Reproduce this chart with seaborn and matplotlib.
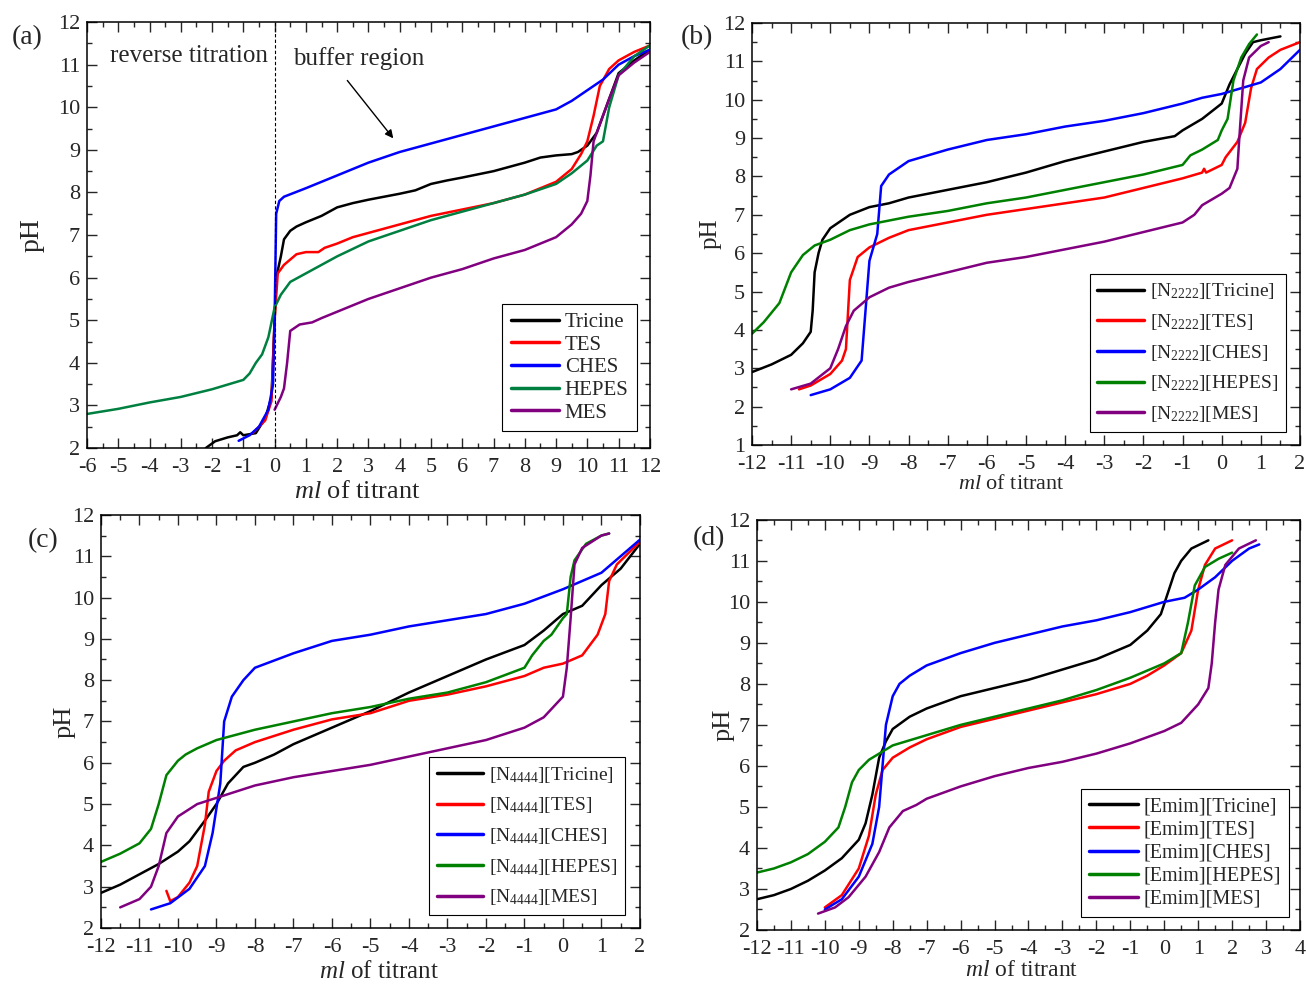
import numpy as np
import pandas as pd
import seaborn as sns
import matplotlib.pyplot as plt
from matplotlib.ticker import MultipleLocator

# ---- panel (a): buffers ----
a_tricine_x = [-2.2, -1.9, -1.5, -1.2, -1.1, -1.0, -0.6, -0.3, -0.1, 0.0, 0.05, 0.2, 0.3, 0.5, 0.7, 1.0, 1.5, 2.0, 2.5, 3.0, 3.5, 4.0, 4.5, 5.0, 5.5, 6.0, 7.0, 7.5, 8.0, 8.5, 9.0, 9.5, 9.7, 10.0, 10.3, 10.5, 10.8, 11.0, 11.5, 12.0]
a_tricine_y = [2.0, 2.16, 2.25, 2.3, 2.37, 2.3, 2.35, 2.7, 3.2, 5.0, 6.0, 6.5, 6.9, 7.1, 7.2, 7.3, 7.45, 7.65, 7.75, 7.83, 7.9, 7.97, 8.05, 8.2, 8.28, 8.35, 8.5, 8.6, 8.7, 8.82, 8.87, 8.9, 8.95, 9.1, 9.4, 9.8, 10.4, 10.8, 11.1, 11.35]
a_tes_x = [-0.7, -0.3, -0.1, 0.0, 0.1, 0.3, 0.7, 1.0, 1.4, 1.6, 2.0, 2.5, 3.0, 4.0, 5.0, 6.0, 7.0, 8.0, 9.0, 9.5, 9.8, 10.0, 10.2, 10.4, 10.7, 11.0, 11.5, 12.0]
a_tes_y = [2.35, 2.65, 3.1, 5.0, 6.1, 6.3, 6.55, 6.6, 6.6, 6.7, 6.8, 6.95, 7.05, 7.25, 7.45, 7.6, 7.75, 7.95, 8.25, 8.55, 8.9, 9.2, 9.8, 10.5, 10.9, 11.1, 11.3, 11.45]
a_ches_x = [-1.15, -0.8, -0.5, -0.2, -0.05, 0.0, 0.05, 0.15, 0.3, 1.0, 2.0, 3.0, 4.0, 5.0, 6.0, 7.0, 8.0, 9.0, 9.5, 10.0, 10.5, 11.0, 11.5, 12.0]
a_ches_y = [2.17, 2.3, 2.5, 2.9, 3.5, 5.0, 7.5, 7.8, 7.9, 8.1, 8.4, 8.7, 8.95, 9.15, 9.35, 9.55, 9.75, 9.95, 10.15, 10.4, 10.65, 11.0, 11.2, 11.35]
a_hepes_x = [-6.0, -5.0, -4.0, -3.0, -2.0, -1.0, -0.8, -0.6, -0.4, -0.2, 0.0, 0.2, 0.5, 1.0, 1.5, 2.0, 3.0, 4.0, 5.0, 6.0, 7.0, 8.0, 9.0, 9.5, 10.0, 10.3, 10.5, 10.7, 11.0, 11.5, 12.0]
a_hepes_y = [2.8, 2.92, 3.07, 3.2, 3.38, 3.6, 3.75, 4.0, 4.2, 4.6, 5.3, 5.6, 5.9, 6.1, 6.3, 6.5, 6.85, 7.1, 7.35, 7.55, 7.75, 7.95, 8.2, 8.45, 8.75, 9.1, 9.2, 10.0, 10.75, 11.2, 11.45]
a_mes_x = [0.0, 0.2, 0.3, 0.4, 0.5, 0.8, 1.2, 1.5, 2.0, 2.5, 3.0, 4.0, 5.0, 6.0, 7.0, 8.0, 9.0, 9.5, 9.8, 10.0, 10.1, 10.2, 10.4, 10.7, 11.0, 11.5, 12.0]
a_mes_y = [2.9, 3.2, 3.4, 4.0, 4.75, 4.9, 4.95, 5.05, 5.2, 5.35, 5.5, 5.75, 6.0, 6.2, 6.45, 6.65, 6.95, 7.25, 7.5, 7.8, 8.4, 9.2, 9.6, 10.2, 10.75, 11.05, 11.3]

# ---- panel (b): [N2222] salts ----
b_tricine_x = [-12.0, -11.5, -11.0, -10.7, -10.5, -10.45, -10.4, -10.3, -10.2, -10.0, -9.5, -9.0, -8.5, -8.0, -7.0, -6.0, -5.0, -4.0, -3.0, -2.0, -1.2, -1.0, -0.5, 0.0, 0.2, 0.4, 0.6, 0.8, 1.0, 1.5]
b_tricine_y = [2.9, 3.1, 3.35, 3.65, 3.95, 4.5, 5.5, 6.0, 6.35, 6.65, 7.0, 7.2, 7.3, 7.45, 7.65, 7.85, 8.1, 8.4, 8.65, 8.9, 9.05, 9.2, 9.5, 9.9, 10.4, 10.8, 11.2, 11.5, 11.55, 11.65]
b_tes_x = [-10.8, -10.5, -10.0, -9.7, -9.6, -9.5, -9.3, -9.0, -8.5, -8.0, -7.0, -6.0, -5.0, -4.0, -3.0, -2.0, -1.0, -0.5, -0.45, -0.4, 0.0, 0.1, 0.4, 0.6, 0.75, 0.9, 1.2, 1.5, 2.0]
b_tes_y = [2.45, 2.55, 2.85, 3.2, 3.5, 5.3, 5.9, 6.15, 6.4, 6.6, 6.8, 7.0, 7.15, 7.3, 7.45, 7.7, 7.95, 8.1, 8.2, 8.1, 8.3, 8.5, 8.9, 9.4, 10.3, 10.8, 11.1, 11.3, 11.5]
b_ches_x = [-10.5, -10.0, -9.5, -9.2, -9.0, -8.8, -8.7, -8.5, -8.0, -7.0, -6.0, -5.0, -4.0, -3.0, -2.0, -1.0, -0.5, 0.0, 0.5, 1.0, 1.5, 2.0]
b_ches_y = [2.3, 2.45, 2.75, 3.2, 5.8, 6.5, 7.75, 8.05, 8.4, 8.7, 8.95, 9.1, 9.3, 9.45, 9.65, 9.9, 10.05, 10.15, 10.3, 10.45, 10.8, 11.3]
b_hepes_x = [-12.0, -11.7, -11.3, -11.0, -10.7, -10.4, -10.0, -9.5, -9.0, -8.0, -7.0, -6.0, -5.0, -4.0, -3.0, -2.0, -1.0, -0.8, -0.5, -0.1, 0.0, 0.15, 0.3, 0.5, 0.7, 0.9]
b_hepes_y = [3.9, 4.2, 4.7, 5.5, 5.95, 6.2, 6.35, 6.6, 6.75, 6.95, 7.1, 7.3, 7.45, 7.65, 7.85, 8.05, 8.3, 8.55, 8.7, 8.95, 9.2, 9.5, 10.5, 11.1, 11.45, 11.7]
b_mes_x = [-11.0, -10.5, -10.0, -9.8, -9.6, -9.4, -9.0, -8.5, -8.0, -7.0, -6.0, -5.0, -4.0, -3.0, -2.0, -1.0, -0.7, -0.5, 0.0, 0.2, 0.4, 0.45, 0.55, 0.7, 1.0, 1.2]
b_mes_y = [2.45, 2.6, 3.0, 3.5, 4.1, 4.5, 4.85, 5.1, 5.25, 5.5, 5.75, 5.9, 6.1, 6.3, 6.55, 6.8, 7.0, 7.25, 7.55, 7.7, 8.2, 9.0, 10.5, 11.1, 11.4, 11.5]

# ---- panel (c): [N4444] salts ----
c_tricine_x = [-12.0, -11.5, -11.0, -10.5, -10.0, -9.7, -9.3, -9.0, -8.7, -8.3, -8.0, -7.5, -7.0, -6.0, -5.0, -4.0, -3.0, -2.0, -1.0, -0.5, 0.0, 0.5, 1.0, 1.5, 2.0]
c_tricine_y = [2.85, 3.05, 3.3, 3.55, 3.85, 4.1, 4.6, 5.0, 5.5, 5.9, 6.0, 6.2, 6.45, 6.85, 7.25, 7.7, 8.1, 8.5, 8.85, 9.2, 9.6, 9.8, 10.3, 10.7, 11.3]
c_tes_x = [-10.3, -10.2, -10.0, -9.7, -9.5, -9.3, -9.2, -9.0, -8.8, -8.5, -8.0, -7.0, -6.0, -5.0, -4.0, -3.0, -2.0, -1.0, -0.5, 0.0, 0.5, 0.9, 1.1, 1.2, 1.4, 2.0]
c_tes_y = [2.9, 2.65, 2.75, 3.1, 3.5, 4.5, 5.3, 5.8, 6.05, 6.3, 6.5, 6.8, 7.05, 7.2, 7.5, 7.65, 7.85, 8.1, 8.3, 8.4, 8.6, 9.1, 9.6, 10.4, 10.8, 11.35]
c_ches_x = [-10.7, -10.2, -9.7, -9.3, -9.1, -8.9, -8.8, -8.6, -8.3, -8.0, -7.0, -6.0, -5.0, -4.0, -3.0, -2.0, -1.0, 0.0, 0.5, 1.0, 1.5, 2.0]
c_ches_y = [2.45, 2.6, 2.95, 3.5, 4.3, 5.5, 7.0, 7.6, 8.0, 8.3, 8.65, 8.95, 9.1, 9.3, 9.45, 9.6, 9.85, 10.2, 10.4, 10.6, 11.0, 11.4]
c_hepes_x = [-12.0, -11.5, -11.0, -10.7, -10.5, -10.3, -10.0, -9.8, -9.5, -9.0, -8.0, -7.0, -6.0, -5.0, -4.0, -3.0, -2.0, -1.0, -0.8, -0.5, -0.3, 0.0, 0.1, 0.2, 0.3, 0.6, 1.0, 1.2]
c_hepes_y = [3.6, 3.8, 4.05, 4.4, 5.0, 5.7, 6.05, 6.2, 6.35, 6.55, 6.8, 7.0, 7.2, 7.35, 7.55, 7.7, 7.95, 8.3, 8.6, 8.95, 9.1, 9.5, 9.6, 10.5, 10.9, 11.3, 11.5, 11.55]
c_mes_x = [-11.5, -11.0, -10.7, -10.5, -10.3, -10.0, -9.5, -9.0, -8.0, -7.0, -6.0, -5.0, -4.0, -3.0, -2.0, -1.0, -0.5, 0.0, 0.1, 0.2, 0.3, 0.5, 1.0, 1.2]
c_mes_y = [2.5, 2.7, 3.0, 3.5, 4.3, 4.7, 5.0, 5.15, 5.45, 5.65, 5.8, 5.95, 6.15, 6.35, 6.55, 6.85, 7.1, 7.6, 8.3, 9.5, 10.8, 11.2, 11.5, 11.55]

# ---- panel (d): [Emim] salts ----
d_tricine_x = [-12.0, -11.5, -11.0, -10.5, -10.0, -9.5, -9.0, -8.8, -8.6, -8.4, -8.2, -8.0, -7.5, -7.0, -6.0, -5.0, -4.0, -3.0, -2.0, -1.0, -0.5, -0.1, 0.1, 0.3, 0.5, 0.8, 1.3]
d_tricine_y = [2.75, 2.85, 3.0, 3.2, 3.45, 3.75, 4.2, 4.6, 5.3, 6.2, 6.6, 6.9, 7.2, 7.4, 7.7, 7.9, 8.1, 8.35, 8.6, 8.95, 9.3, 9.7, 10.2, 10.7, 11.0, 11.3, 11.5]
d_tes_x = [-10.0, -9.5, -9.0, -8.7, -8.5, -8.3, -8.0, -7.5, -7.0, -6.0, -5.0, -4.0, -3.0, -2.0, -1.0, -0.5, 0.0, 0.5, 0.8, 1.0, 1.2, 1.5, 2.0]
d_tes_y = [2.55, 2.85, 3.5, 4.3, 5.3, 5.9, 6.2, 6.45, 6.65, 6.95, 7.15, 7.35, 7.55, 7.75, 8.0, 8.2, 8.45, 8.75, 9.3, 10.3, 10.9, 11.3, 11.5]
d_ches_x = [-10.0, -9.5, -9.0, -8.6, -8.4, -8.3, -8.2, -8.0, -7.8, -7.5, -7.0, -6.0, -5.0, -4.0, -3.0, -2.0, -1.0, 0.0, 0.6, 1.0, 1.5, 2.0, 2.5, 2.8]
d_ches_y = [2.5, 2.75, 3.3, 4.1, 5.0, 6.0, 7.0, 7.7, 8.0, 8.2, 8.45, 8.75, 9.0, 9.2, 9.4, 9.55, 9.75, 10.0, 10.1, 10.3, 10.6, 11.0, 11.3, 11.4]
d_hepes_x = [-12.0, -11.5, -11.0, -10.5, -10.0, -9.6, -9.4, -9.2, -9.0, -8.7, -8.3, -8.0, -7.0, -6.0, -5.0, -4.0, -3.0, -2.0, -1.0, 0.0, 0.5, 0.7, 0.9, 1.2, 1.6, 2.0]
d_hepes_y = [3.4, 3.5, 3.65, 3.85, 4.15, 4.5, 5.0, 5.6, 5.9, 6.15, 6.35, 6.5, 6.75, 7.0, 7.2, 7.4, 7.6, 7.85, 8.15, 8.5, 8.75, 9.5, 10.4, 10.85, 11.05, 11.2]
d_mes_x = [-10.2, -9.7, -9.3, -8.8, -8.4, -8.1, -7.7, -7.3, -7.0, -6.0, -5.0, -4.0, -3.0, -2.0, -1.0, 0.0, 0.5, 1.0, 1.3, 1.4, 1.5, 1.6, 1.8, 2.2, 2.7]
d_mes_y = [2.4, 2.55, 2.8, 3.3, 3.9, 4.5, 4.9, 5.05, 5.2, 5.5, 5.75, 5.95, 6.1, 6.3, 6.55, 6.85, 7.05, 7.5, 7.9, 8.5, 9.5, 10.3, 10.9, 11.3, 11.5]

buffers = ["Tricine", "TES", "CHES", "HEPES", "MES"]
colors = ["#000000", "#ff0000", "#0000ff", "#008040", "#800080"]
colors_b = ["#000000", "#ff0000", "#0000ff", "#008000", "#800080"]

sns.set_theme(style="ticks")
plt.rcParams["font.family"] = ["Liberation Serif", "DejaVu Serif"]
plt.rcParams["mathtext.fontset"] = "custom"
plt.rcParams["mathtext.rm"] = "Liberation Serif"
plt.rcParams["mathtext.it"] = "Liberation Serif:italic"
plt.rcParams["axes.unicode_minus"] = False

fig = plt.figure(figsize=(13.06, 9.86), dpi=100)

panels = [
    dict(tag="(a)", pos=[0.0666, 0.5456, 0.431, 0.432], xlim=(-6, 12), ylim=(2, 12), prefix="",
         data=[(a_tricine_x, a_tricine_y), (a_tes_x, a_tes_y), (a_ches_x, a_ches_y), (a_hepes_x, a_hepes_y), (a_mes_x, a_mes_y)],
         cols=colors, leg=(0.977, 0.04), tagpos=(0.021, 0.962),
         ylab=(-0.0746, 20), xlab=(0.48, -0.077, 19), legfs=15, legsp=0.15, hl=2.3),
    dict(tag="(b)", pos=[0.5758, 0.5487, 0.4196, 0.428], xlim=(-12, 2), ylim=(1, 12), prefix="[N$_{\\mathrm{2222}}$]",
         data=[(b_tricine_x, b_tricine_y), (b_tes_x, b_tes_y), (b_ches_x, b_ches_y), (b_hepes_x, b_hepes_y), (b_mes_x, b_mes_y)],
         cols=colors_b, leg=(0.974, 0.031), tagpos=(0.534, 0.962),
         ylab=(-0.055, 18), xlab=(0.474, -0.072, 16), legfs=14, legsp=0.55, hl=2.4),
    dict(tag="(c)", pos=[0.0773, 0.0588, 0.4127, 0.419], xlim=(-12, 2), ylim=(2, 12), prefix="[N$_{\\mathrm{4444}}$]",
         data=[(c_tricine_x, c_tricine_y), (c_tes_x, c_tes_y), (c_ches_x, c_ches_y), (c_hepes_x, c_hepes_y), (c_mes_x, c_mes_y)],
         cols=colors_b, leg=(0.972, 0.031), tagpos=(0.033, 0.452),
         ylab=(-0.048, 19), xlab=(0.516, -0.08, 18), legfs=14, legsp=0.55, hl=2.4),
    dict(tag="(d)", pos=[0.5796, 0.0568, 0.4158, 0.416], xlim=(-12, 4), ylim=(2, 12), prefix="[Emim]",
         data=[(d_tricine_x, d_tricine_y), (d_tes_x, d_tes_y), (d_ches_x, d_ches_y), (d_hepes_x, d_hepes_y), (d_mes_x, d_mes_y)],
         cols=colors_b, leg=(0.98, 0.032), tagpos=(0.543, 0.454),
         ylab=(-0.042, 19), xlab=(0.488, -0.074, 17), legfs=14.5, legsp=0.2, hl=2.4),
]

for p in panels:
    ax = fig.add_axes(p["pos"])
    for (xs, ys), name, col in zip(p["data"], buffers, p["cols"]):
        label = name if p["prefix"] == "" else p["prefix"] + "[" + name + "]"
        df = pd.DataFrame({"x": xs, "y": ys})
        sns.lineplot(data=df, x="x", y="y", ax=ax, color=col, lw=1.8, label=label,
                     estimator=None, sort=False)
    ax.set_xlim(*p["xlim"])
    ax.set_ylim(*p["ylim"])
    ax.xaxis.set_major_locator(MultipleLocator(1))
    ax.xaxis.set_minor_locator(MultipleLocator(0.5))
    ax.yaxis.set_major_locator(MultipleLocator(1))
    ax.yaxis.set_minor_locator(MultipleLocator(0.5))
    ax.tick_params(which="both", direction="in", top=True, right=True, width=1.0, labelsize=16)
    ax.tick_params(axis="x", pad=7)
    ax.tick_params(axis="y", pad=5)
    ax.tick_params(which="major", length=7)
    ax.tick_params(which="minor", length=3.5)
    for s in ax.spines.values():
        s.set_linewidth(1.1)
        s.set_color("black")
    ax.set_xlabel("$\\mathit{ml}$ of titrant", fontsize=p["xlab"][2])
    ax.xaxis.set_label_coords(p["xlab"][0], p["xlab"][1])
    ax.set_ylabel("pH", fontsize=p["ylab"][1])
    ax.yaxis.set_label_coords(p["ylab"][0], 0.5)
    leg = ax.legend(loc="lower right", bbox_to_anchor=p["leg"], fontsize=p["legfs"], frameon=True,
                    fancybox=False, edgecolor="black", framealpha=1, handlelength=p["hl"],
                    handletextpad=0.3, labelspacing=p["legsp"], borderpad=0.4, borderaxespad=0)
    leg.get_frame().set_linewidth(0.8)
    for h in leg.get_lines():
        h.set_linewidth(2.5)
    fig.text(p["tagpos"][0], p["tagpos"][1], p["tag"], fontsize=20, ha="center", va="center")
    if p["tag"] == "(a)":
        ax.axvline(0, color="black", lw=0.8, ls=(0, (3, 2)))
        ax.text(-2.75, 11.2, "reverse titration", fontsize=18, ha="center", va="center")
        ax.text(2.7, 11.15, "buffer region", fontsize=18, ha="center", va="center")
        ax.annotate("", xy=(3.85, 9.22), xytext=(2.27, 10.68),
                    arrowprops=dict(arrowstyle="-|>", color="black", lw=1.0, mutation_scale=12))

fig.savefig("out.png", dpi=100)
